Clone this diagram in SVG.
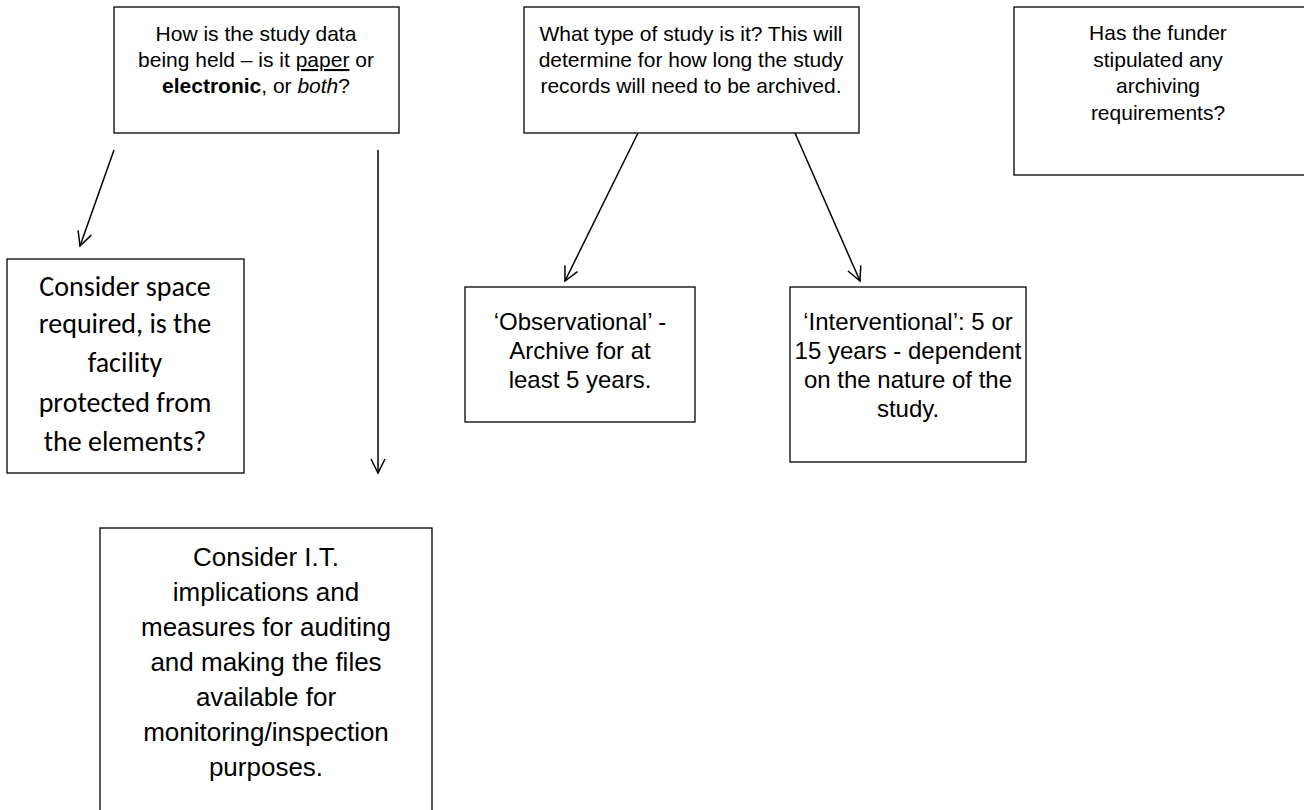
<svg xmlns="http://www.w3.org/2000/svg" width="1304" height="810" viewBox="0 0 1304 810">
<style>
.box{fill:#fff;stroke:#000;stroke-width:1.3}
.t{font-family:"Liberation Sans",Arial,sans-serif;font-size:21px;fill:#000;text-anchor:middle}
.m{font-family:"Liberation Sans",Arial,sans-serif;font-size:24px;fill:#000;text-anchor:middle}
.e{font-family:"Liberation Sans",Arial,sans-serif;font-size:26px;fill:#000;text-anchor:middle}
.c{font-family:Carlito,Lato,"Liberation Sans",sans-serif;font-size:28px;fill:#000;text-anchor:middle}
.ln{stroke:#000;stroke-width:1.5;fill:none}
</style>
<defs>
<marker id="v" viewBox="0 0 20 20" refX="16" refY="10" markerWidth="20" markerHeight="20" markerUnits="userSpaceOnUse" orient="auto">
<path d="M2,3 L16,10 L2,17" fill="none" stroke="#000" stroke-width="1.5"/>
</marker>
</defs>
<rect width="1304" height="810" fill="#fff"/>
<g id="connectors">
<line class="ln" x1="114" y1="150" x2="80" y2="246" marker-end="url(#v)"/>
<line class="ln" x1="378" y1="150" x2="378" y2="473" marker-end="url(#v)"/>
<line class="ln" x1="638" y1="133" x2="565" y2="281" marker-end="url(#v)"/>
<line class="ln" x1="795" y1="133" x2="860" y2="281" marker-end="url(#v)"/>
</g>
<g id="n-storage">
<rect class="box" x="114" y="7" width="285" height="126"/>
<text class="t" x="256" y="41">How is the study data</text>
<text class="t" x="256" y="67">being held – is it <tspan text-decoration="underline">paper</tspan> or</text>
<text class="t" x="256" y="93"><tspan font-weight="bold">electronic</tspan>, or <tspan font-style="italic">both</tspan>?</text>
</g>
<g id="n-type">
<rect class="box" x="524" y="7" width="335" height="126"/>
<text class="t" x="691" y="41">What type of study is it? This will</text>
<text class="t" x="691" y="67">determine for how long the study</text>
<text class="t" x="691" y="93">records will need to be archived.</text>
</g>
<g id="n-funder">
<rect class="box" x="1014" y="7" width="295" height="168"/>
<text class="t" x="1158" y="40">Has the funder</text>
<text class="t" x="1158" y="67">stipulated any</text>
<text class="t" x="1158" y="93">archiving</text>
<text class="t" x="1158" y="120">requirements?</text>
</g>
<g id="n-space">
<rect class="box" x="7" y="259" width="237" height="214"/>
<text class="c" x="125" y="296">Consider space</text>
<text class="c" x="125" y="333">required, is the</text>
<text class="c" x="125" y="372">facility</text>
<text class="c" x="125" y="412">protected from</text>
<text class="c" x="125" y="451">the elements?</text>
</g>
<g id="n-it">
<rect class="box" x="100" y="528" width="332" height="300"/>
<text class="e" x="266" y="566">Consider I.T.</text>
<text class="e" x="266" y="601">implications and</text>
<text class="e" x="266" y="636">measures for auditing</text>
<text class="e" x="266" y="671">and making the files</text>
<text class="e" x="266" y="706">available for</text>
<text class="e" x="266" y="741">monitoring/inspection</text>
<text class="e" x="266" y="776">purposes.</text>
</g>
<g id="n-obs">
<rect class="box" x="465" y="287" width="230" height="135"/>
<text class="m" x="580" y="330">‘Observational’ -</text>
<text class="m" x="580" y="359">Archive for at</text>
<text class="m" x="580" y="388">least 5 years.</text>
</g>
<g id="n-int">
<rect class="box" x="790" y="287" width="236" height="175"/>
<text class="m" x="908" y="330">‘Interventional’: 5 or</text>
<text class="m" x="908" y="359">15 years - dependent</text>
<text class="m" x="908" y="388">on the nature of the</text>
<text class="m" x="908" y="417">study.</text>
</g>
</svg>
